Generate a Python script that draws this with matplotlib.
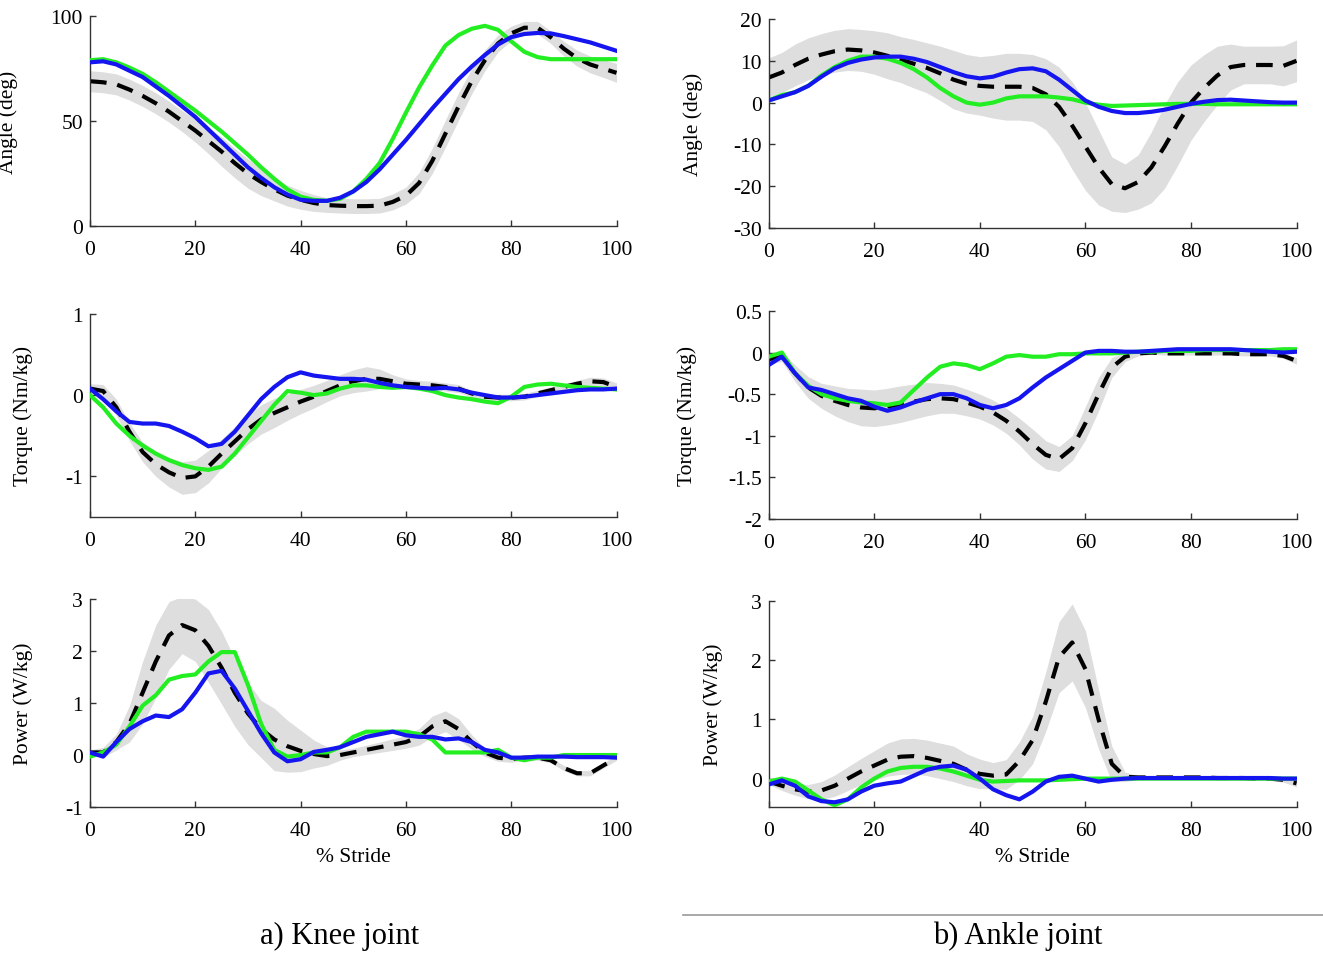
import numpy as np
import matplotlib
matplotlib.use('Agg')
import matplotlib.pyplot as plt
from matplotlib.ticker import FormatStrFormatter

plt.rcParams['font.family'] = 'Liberation Serif'
plt.rcParams['axes.unicode_minus'] = False

# % stride, every 2.5 %
stride = np.arange(0, 100.1, 2.5)

# ---- knee angle (deg)
knee_angle_mean = [69, 68.5, 67.5, 65, 62, 58.5, 54.5, 50, 45.5, 40.5, 35.5, 30, 25, 21, 17.5, 14.5, 12.5,
                   11, 10, 9.7, 9.5, 9.5, 9.7, 11.5, 14.5, 20.5, 31, 44, 57, 69, 79, 87, 91.8, 94.5,
                   94.5, 90, 84.5, 80, 77, 75, 73]
knee_angle_sd = [5, 5, 5, 5, 5, 5, 5, 5, 5.5, 6, 7, 7, 7, 6.5, 5.5, 5, 4.5, 4, 3.5, 3.5, 3.5, 3.5, 3.5,
                 3.8, 4, 5, 6, 6.5, 6.5, 6, 5, 4, 3.5, 3, 3, 3, 3.5, 3.8, 4, 4.2, 4.5]
knee_angle_green = [79, 79.5, 78, 75.5, 72.5, 68.5, 64, 59.5, 55, 50, 45, 39.5, 34, 28, 22.5, 17.5, 14,
                    12.5, 12, 13, 16.5, 22.5, 30, 41.5, 54, 66, 76.5, 86, 91, 94, 95.4, 93.5, 88, 83,
                    80.5, 79.5, 79.5, 79.5, 79.5, 79.5, 79.5]
knee_angle_blue = [78, 78.5, 77, 74, 71, 66.5, 62, 57, 52, 46, 40, 34, 28, 23, 18.5, 15, 12.5, 12, 12,
                   13.5, 16.5, 21, 27, 34, 41, 48.5, 56, 63, 70, 76, 81.5, 86.5, 90, 91.5, 92, 91.8,
                   90.5, 89, 87.5, 85.5, 83.5]

# ---- ankle angle (deg)
ankle_angle_mean = [6, 7.2, 9, 10.5, 11.5, 12.3, 12.7, 12.5, 12, 11.2, 10.3, 9.3, 8.3, 7, 5.5, 4.5, 4,
                    3.8, 3.8, 3.8, 3.5, 2, -1, -5.5, -10.5, -15.5, -19.5, -20.5, -19, -15.5, -10.5, -5,
                    0, 3.5, 6.5, 8.5, 9, 9, 9, 8.8, 10]
ankle_angle_sd = [4.7, 4.8, 5, 5, 5, 5, 5, 5, 5.2, 5.5, 5.5, 5.8, 6, 6.5, 7, 7, 7, 7.5, 8, 8, 8, 8.5, 9.5,
                  10.5, 10.5, 9, 6.5, 5.8, 6.5, 8.5, 10, 10, 9, 8, 7, 5.5, 4.5, 4.5, 4.5, 4.8, 5]
ankle_angle_green = [0.5, 1.8, 2.5, 4, 6.5, 8.5, 10, 11, 11, 10.5, 9.5, 8, 6, 3.5, 1.5, 0, -0.5, 0, 1,
                     1.5, 1.5, 1.5, 1.2, 0.8, 0, -0.5, -0.8, -0.7, -0.6, -0.5, -0.4, -0.3, -0.3, -0.3,
                     -0.4, -0.4, -0.4, -0.4, -0.4, -0.4, -0.4]
ankle_angle_blue = [0.5, 1.5, 2.5, 4, 6.2, 8.2, 9.5, 10.3, 10.8, 11, 11, 10.5, 9.7, 8.5, 7.3, 6.3, 5.8,
                    6.2, 7.2, 8, 8.2, 7.5, 5.5, 3, 0.5, -1, -2, -2.5, -2.5, -2.2, -1.7, -1, -0.3, 0.2,
                    0.6, 0.7, 0.5, 0.3, 0.1, 0, 0]

# ---- knee torque (Nm/kg)
knee_torque_mean = [0.08, 0.05, -0.15, -0.45, -0.7, -0.85, -0.95, -1.02, -1.0, -0.88, -0.72, -0.57,
                    -0.42, -0.3, -0.22, -0.15, -0.08, -0.02, 0.05, 0.12, 0.17, 0.2, 0.2, 0.17, 0.14,
                    0.13, 0.12, 0.1, 0.08, 0.02, -0.02, -0.03, -0.03, -0.02, 0.02, 0.06, 0.1, 0.14,
                    0.17, 0.16, 0.1]
knee_torque_sd = [0.06, 0.08, 0.1, 0.11, 0.12, 0.15, 0.18, 0.2, 0.2, 0.2, 0.18, 0.18, 0.18, 0.18, 0.18,
                  0.16, 0.15, 0.14, 0.13, 0.13, 0.14, 0.15, 0.12, 0.08, 0.06, 0.05, 0.05, 0.05, 0.05,
                  0.04, 0.04, 0.04, 0.04, 0.04, 0.04, 0.04, 0.04, 0.04, 0.05, 0.05, 0.05]
knee_torque_green = [0.0, -0.15, -0.35, -0.5, -0.62, -0.72, -0.8, -0.86, -0.9, -0.92, -0.88, -0.72,
                     -0.52, -0.32, -0.12, 0.05, 0.03, 0.0, 0.02, 0.08, 0.12, 0.12, 0.1, 0.09, 0.1, 0.08,
                     0.05, 0.0, -0.03, -0.05, -0.08, -0.1, -0.02, 0.1, 0.13, 0.14, 0.12, 0.1, 0.09,
                     0.08, 0.07]
knee_torque_blue = [0.08, -0.05, -0.2, -0.33, -0.35, -0.35, -0.38, -0.45, -0.53, -0.63, -0.6, -0.45,
                    -0.25, -0.05, 0.1, 0.22, 0.28, 0.24, 0.22, 0.2, 0.2, 0.19, 0.15, 0.12, 0.1, 0.09,
                    0.08, 0.09, 0.07, 0.03, 0.0, -0.03, -0.03, -0.02, 0.0, 0.02, 0.04, 0.06, 0.07,
                    0.07, 0.08]

# ---- ankle torque (Nm/kg)
ankle_torque_mean = [-0.08, -0.05, -0.25, -0.42, -0.52, -0.58, -0.63, -0.66, -0.67, -0.65, -0.62,
                     -0.59, -0.56, -0.55, -0.56, -0.6, -0.65, -0.72, -0.82, -0.95, -1.1, -1.23, -1.28,
                     -1.15, -0.85, -0.5, -0.18, -0.05, -0.01, 0, -0.01, -0.01, -0.01, -0.01, -0.01,
                     -0.01, -0.02, -0.02, -0.02, -0.04, -0.1]
ankle_torque_sd = [0.05, 0.06, 0.1, 0.13, 0.15, 0.18, 0.2, 0.22, 0.22, 0.22, 0.22, 0.21, 0.2, 0.18,
                   0.17, 0.16, 0.15, 0.15, 0.15, 0.16, 0.18, 0.17, 0.15, 0.15, 0.2, 0.2, 0.12, 0.06,
                   0.03, 0.02, 0.02, 0.02, 0.02, 0.02, 0.02, 0.02, 0.02, 0.02, 0.02, 0.03, 0.04]
ankle_torque_green = [-0.05, 0.0, -0.25, -0.4, -0.5, -0.55, -0.58, -0.6, -0.61, -0.63, -0.6, -0.45,
                      -0.3, -0.17, -0.13, -0.15, -0.2, -0.13, -0.05, -0.03, -0.05, -0.05, -0.02, -0.02,
                      -0.01, -0.01, -0.01, 0.0, 0.01, 0.01, 0.02, 0.02, 0.02, 0.03, 0.03, 0.03, 0.03,
                      0.03, 0.03, 0.04, 0.04]
ankle_torque_blue = [-0.15, -0.05, -0.25, -0.42, -0.45, -0.5, -0.55, -0.58, -0.65, -0.7, -0.66, -0.6,
                     -0.55, -0.5, -0.5, -0.55, -0.63, -0.67, -0.63, -0.55, -0.42, -0.3, -0.2, -0.1, 0.0,
                     0.02, 0.02, 0.01, 0.01, 0.02, 0.03, 0.04, 0.04, 0.04, 0.04, 0.04, 0.03, 0.02, 0.01,
                     0.0, 0.01]

# ---- knee power (W/kg)
knee_power_mean = [0.05, 0.05, 0.25, 0.6, 1.2, 1.8, 2.3, 2.5, 2.4, 2.1, 1.68, 1.2, 0.8, 0.5, 0.3, 0.17,
                   0.08, 0.02, -0.02, 0.0, 0.05, 0.1, 0.15, 0.2, 0.25, 0.35, 0.55, 0.65, 0.5, 0.25, 0.05,
                   -0.05, -0.08, -0.05, -0.05, -0.1, -0.25, -0.35, -0.35, -0.2, -0.05]
knee_power_sd = [0.05, 0.1, 0.15, 0.35, 0.6, 0.7, 0.65, 0.55, 0.6, 0.7, 0.7, 0.65, 0.6, 0.55, 0.6, 0.5,
                 0.4, 0.27, 0.18, 0.1, 0.08, 0.09, 0.1, 0.11, 0.12, 0.16, 0.2, 0.2, 0.2, 0.14, 0.08,
                 0.07, 0.06, 0.05, 0.05, 0.05, 0.05, 0.05, 0.05, 0.05, 0.05]
knee_power_green = [-0.03, 0.05, 0.2, 0.55, 0.95, 1.15, 1.45, 1.52, 1.55, 1.8, 1.98, 1.98, 1.35, 0.6,
                    0.1, -0.03, 0.0, 0.05, 0.05, 0.15, 0.35, 0.45, 0.45, 0.45, 0.45, 0.4, 0.3, 0.05,
                    0.05, 0.05, 0.05, 0.1, -0.05, -0.1, -0.05, -0.05, 0.0, 0.0, 0.0, 0.0, 0.0]
knee_power_blue = [0.05, -0.03, 0.25, 0.5, 0.65, 0.76, 0.73, 0.88, 1.2, 1.57, 1.62, 1.28, 0.85, 0.42,
                   0.05, -0.12, -0.08, 0.06, 0.1, 0.15, 0.25, 0.35, 0.4, 0.45, 0.38, 0.35, 0.35, 0.3,
                   0.32, 0.25, 0.1, 0.05, -0.05, -0.05, -0.03, -0.03, -0.03, -0.04, -0.04, -0.04, -0.05]

# ---- ankle power (W/kg)
ankle_power_mean = [-0.05, -0.12, -0.18, -0.22, -0.2, -0.12, 0.0, 0.12, 0.22, 0.32, 0.37, 0.38, 0.35,
                    0.3, 0.25, 0.15, 0.08, 0.05, 0.07, 0.3, 0.65, 1.3, 2.05, 2.3, 1.85, 1.0, 0.25, 0.03,
                    0.02, 0.02, 0.02, 0.02, 0.02, 0.02, 0.01, 0.01, 0.01, 0.0, 0.0, -0.02, -0.08]
ankle_power_sd = [0.05, 0.08, 0.1, 0.12, 0.15, 0.18, 0.2, 0.22, 0.25, 0.28, 0.3, 0.3, 0.3, 0.3, 0.3,
                  0.27, 0.25, 0.22, 0.25, 0.32, 0.4, 0.5, 0.6, 0.65, 0.65, 0.5, 0.3, 0.08, 0.03, 0.03,
                  0.03, 0.03, 0.03, 0.03, 0.03, 0.03, 0.03, 0.03, 0.03, 0.04, 0.06]
ankle_power_green = [-0.05, 0.0, -0.05, -0.2, -0.35, -0.45, -0.35, -0.15, 0.0, 0.12, 0.18, 0.2, 0.2,
                     0.17, 0.12, 0.05, -0.02, -0.05, -0.04, -0.03, -0.03, -0.03, -0.02, -0.01, 0.0, 0.0,
                     0.0, 0.0, 0.0, 0.0, 0.0, 0.0, 0.0, 0.0, 0.0, 0.0, 0.0, 0.0, 0.0, 0.0, 0.0]
ankle_power_blue = [-0.1, -0.03, -0.12, -0.3, -0.38, -0.4, -0.35, -0.22, -0.12, -0.08, -0.05, 0.05,
                    0.15, 0.2, 0.22, 0.15, 0.0, -0.18, -0.28, -0.35, -0.22, -0.05, 0.03, 0.05, 0.0,
                    -0.05, -0.02, 0.0, 0.01, 0.01, 0.01, 0.01, 0.01, 0.01, 0.01, 0.01, 0.01, 0.01,
                    0.01, 0.0, 0.0]


def draw_panel(ax, mean, sd, green, blue, ylim, yticks, ylabel, ylab_x, xlabel=None):
    mean = np.array(mean)
    sd = np.array(sd)
    ax.fill_between(stride, mean - sd, mean + sd, color='#dedede', lw=0, zorder=1)
    ax.plot(stride, mean, color='black', lw=3, dashes=(4, 2.6), zorder=2)
    ax.plot(stride, green, color='#22ee22', lw=3, zorder=3)
    ax.plot(stride, blue, color='#1515f0', lw=3, zorder=4)

    ax.set_xlim(0, 100)
    ax.set_ylim(*ylim)
    ax.set_xticks(range(0, 101, 20))
    ax.set_yticks(yticks)
    ax.yaxis.set_major_formatter(FormatStrFormatter('%g'))
    for s in ['top', 'right']:
        ax.spines[s].set_visible(False)
    for s in ['left', 'bottom']:
        ax.spines[s].set_color('#333333')
        ax.spines[s].set_linewidth(1.0)
    ax.tick_params(direction='in', length=4, width=1, color='#333333', labelsize=15.5)
    ax.tick_params(axis='x', pad=10)
    ax.tick_params(axis='y', pad=5)
    ax.set_ylabel(ylabel, fontsize=15.5)
    ax.yaxis.set_label_coords(ylab_x, 0.5)
    if xlabel:
        ax.set_xlabel(xlabel, fontsize=15.5, labelpad=5)


fig = plt.figure(figsize=(13.23, 9.54), dpi=100)

ax1 = fig.add_axes([0.068, 0.762, 0.398, 0.220])
draw_panel(ax1, knee_angle_mean, knee_angle_sd, knee_angle_green, knee_angle_blue,
           (0, 100), [0, 50, 100], 'Angle (deg)', -0.137)
ax2 = fig.add_axes([0.581, 0.760, 0.399, 0.219])
draw_panel(ax2, ankle_angle_mean, ankle_angle_sd, ankle_angle_green, ankle_angle_blue,
           (-30, 20), range(-30, 21, 10), 'Angle (deg)', -0.125)
ax3 = fig.add_axes([0.068, 0.457, 0.398, 0.213])
draw_panel(ax3, knee_torque_mean, knee_torque_sd, knee_torque_green, knee_torque_blue,
           (-1.5, 1), [-1, 0, 1], 'Torque (Nm/kg)', -0.108)
ax4 = fig.add_axes([0.581, 0.455, 0.399, 0.218])
draw_panel(ax4, ankle_torque_mean, ankle_torque_sd, ankle_torque_green, ankle_torque_blue,
           (-2, 0.5), [-2, -1.5, -1, -0.5, 0, 0.5], 'Torque (Nm/kg)', -0.136)
ax5 = fig.add_axes([0.068, 0.153, 0.398, 0.218])
draw_panel(ax5, knee_power_mean, knee_power_sd, knee_power_green, knee_power_blue,
           (-1, 3), [-1, 0, 1, 2, 3], 'Power (W/kg)', -0.108, xlabel='% Stride')
ax6 = fig.add_axes([0.581, 0.153, 0.399, 0.216])
draw_panel(ax6, ankle_power_mean, ankle_power_sd, ankle_power_green, ankle_power_blue,
           (-0.48, 3), [0, 1, 2, 3], 'Power (W/kg)', -0.087, xlabel='% Stride')

# captions under the columns
fig.text(340 / 1323, 1 - 936 / 954, 'a) Knee joint', fontsize=22, ha='center', va='center')
fig.text(1018 / 1323, 1 - 936 / 954, 'b) Ankle joint', fontsize=22, ha='center', va='center')
fig.add_artist(plt.Line2D([683 / 1323, 1.0], [1 - 916 / 954] * 2, color='#9a9a9a', lw=1.2))

fig.savefig('out.png', dpi=100)
